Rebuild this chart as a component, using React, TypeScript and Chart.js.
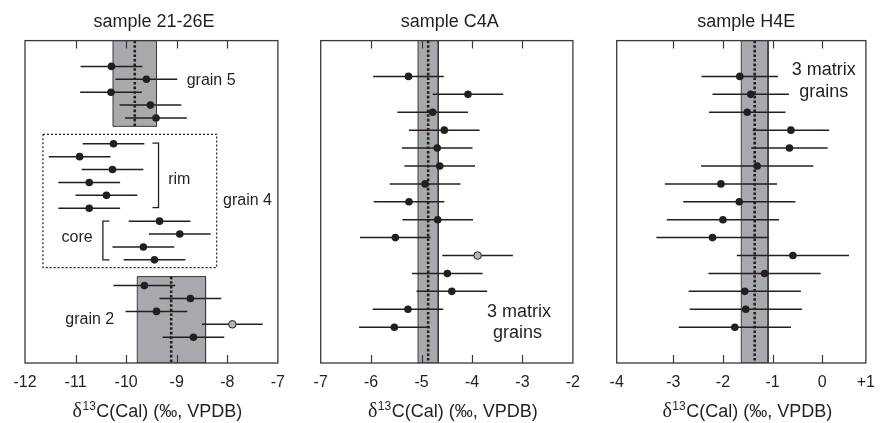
import React, { useEffect, useRef } from 'react';
import { Chart, registerables } from 'chart.js';
Chart.register(...registerables);

const FONT = "'Liberation Sans', Arial, Helvetica, sans-serif";
const SERIF = "'Liberation Serif', 'Times New Roman', serif";
const INK = '#231f20';
const FRAME = '#3a3a3a';
const BOX_FILL = '#a7a9ac';
const BOX_EDGE = '#3a3a3a';
const GRAY_PT = '#b4b4b4';

// ---------- sample 21-26E ----------
const s1Title = 'sample 21-26E';
const s1Rows = [2, 3, 4, 5, 6, 8, 9, 10, 11, 12, 13, 14, 15, 16, 17, 19, 20, 21, 22, 23];
const s1Values = [-10.29, -9.6, -10.3, -9.52, -9.41, -10.25, -10.92, -10.27, -10.73, -10.39, -10.73, -9.34, -8.94, -9.66, -9.44, -9.64, -8.73, -9.4, -7.9, -8.67];
const s1Errors = [0.61, 0.61, 0.61, 0.61, 0.61, 0.61, 0.61, 0.61, 0.61, 0.61, 0.61, 0.61, 0.61, 0.61, 0.61, 0.61, 0.61, 0.61, 0.6, 0.61];
const s1Gray = [false, false, false, false, false, false, false, false, false, false, false, false, false, false, false, false, false, false, true, false];
const s1TickValues = [-12, -11, -10, -9, -8, -7];
const s1TickLabels = ['-12', '-11', '-10', '-9', '-8', '-7'];
const s1Means = [-9.83, -9.11];
const s1BoxLo = [-10.26, -9.78];
const s1BoxHi = [-9.4, -8.43];

// ---------- sample C4A ----------
const s2Title = 'sample C4A';
const s2Rows = [2, 3, 4, 5, 6, 7, 8, 9, 10, 11, 12, 13, 14, 15, 16];
const s2Values = [-5.26, -4.08, -4.78, -4.55, -4.69, -4.64, -4.93, -5.25, -4.68, -5.52, -3.89, -4.49, -4.4, -5.27, -5.54];
const s2Errors = [0.7, 0.7, 0.7, 0.7, 0.7, 0.7, 0.7, 0.7, 0.7, 0.7, 0.7, 0.7, 0.7, 0.7, 0.7];
const s2Gray = [false, false, false, false, false, false, false, false, false, false, true, false, false, false, false];
const s2TickValues = [-7, -6, -5, -4, -3, -2];
const s2TickLabels = ['-7', '-6', '-5', '-4', '-3', '-2'];
const s2Means = [-4.87];
const s2BoxLo = [-5.07];
const s2BoxHi = [-4.67];

// ---------- sample H4E ----------
const s3Title = 'sample H4E';
const s3Rows = [2, 3, 4, 5, 6, 7, 8, 9, 10, 11, 12, 13, 14, 15, 16];
const s3Values = [-1.66, -1.44, -1.51, -0.63, -0.66, -1.31, -2.04, -1.67, -2.0, -2.21, -0.59, -1.16, -1.56, -1.54, -1.76];
const s3Errors = [0.77, 0.77, 0.77, 0.77, 0.77, 1.13, 1.13, 1.13, 1.13, 1.13, 1.13, 1.13, 1.13, 1.13, 1.13];
const s3Gray = [false, false, false, false, false, false, false, false, false, false, false, false, false, false, false];
const s3AxisMin = -4.14;
const s3AxisMax = 0.88;
const s3TickValues = [s3AxisMin, -3, -2, -1, 0, s3AxisMax];
const s3TickLabels = ['-4', '-3', '-2', '-1', '0', '+1'];
const s3Means = [-1.36];
const s3BoxLo = [-1.63];
const s3BoxHi = [-1.09];

// axis title pieces: δ ¹³ C(Cal) (‰, VPDB)
const AXIS_DELTA = 'δ';
const AXIS_SUP = '13';
const AXIS_REST = 'C(Cal) (‰, VPDB)';

type Box = { lo: number; hi: number; mean: number; top: number; bottom: number };
type Label = { text: string; x: number; y: number; size: number };
type Poly = { pts: { x: number; y: number }[]; dash: number[]; width: number };

type Spec = {
  title: string;
  left: number;
  width: number;
  padLeft: number;
  padRight: number;
  xMin: number;
  xMax: number;
  yMax: number;
  rows: number[];
  values: number[];
  errors: number[];
  gray: boolean[];
  tickValues: number[];
  tickLabels: string[];
  boxes: Box[];
  labels: Label[];
  polys: Poly[];
};

const specs: Spec[] = [
  {
    title: s1Title,
    left: 0,
    width: 295,
    padLeft: 25,
    padRight: 12,
    xMin: -12,
    xMax: -7,
    yMax: 25,
    rows: s1Rows,
    values: s1Values,
    errors: s1Errors,
    gray: s1Gray,
    tickValues: s1TickValues,
    tickLabels: s1TickLabels,
    boxes: [
      { lo: s1BoxLo[0], hi: s1BoxHi[0], mean: s1Means[0], top: 0, bottom: 6.65 },
      { lo: s1BoxLo[1], hi: s1BoxHi[1], mean: s1Means[1], top: 18.3, bottom: 25 },
    ],
    labels: [
      { text: 'grain 5', x: -8.32, y: 3.1, size: 16 },
      { text: 'rim', x: -8.95, y: 10.8, size: 16 },
      { text: 'grain 4', x: -7.6, y: 12.37, size: 16 },
      { text: 'core', x: -10.97, y: 15.27, size: 16 },
      { text: 'grain 2', x: -10.72, y: 21.6, size: 16 },
    ],
    polys: [
      {
        pts: [
          { x: -11.645, y: 7.27 },
          { x: -8.21, y: 7.27 },
          { x: -8.21, y: 17.6 },
          { x: -11.645, y: 17.6 },
          { x: -11.645, y: 7.27 },
        ],
        dash: [2, 2],
        width: 1.2,
      },
      {
        pts: [
          { x: -9.48, y: 7.95 },
          { x: -9.36, y: 7.95 },
          { x: -9.36, y: 12.95 },
          { x: -9.48, y: 12.95 },
        ],
        dash: [],
        width: 1.3,
      },
      {
        pts: [
          { x: -10.33, y: 14.0 },
          { x: -10.46, y: 14.0 },
          { x: -10.46, y: 17.0 },
          { x: -10.33, y: 17.0 },
        ],
        dash: [],
        width: 1.3,
      },
    ],
  },
  {
    title: s2Title,
    left: 295,
    width: 295,
    padLeft: 25.7,
    padRight: 11,
    xMin: -7,
    xMax: -2,
    yMax: 18,
    rows: s2Rows,
    values: s2Values,
    errors: s2Errors,
    gray: s2Gray,
    tickValues: s2TickValues,
    tickLabels: s2TickLabels,
    boxes: [{ lo: s2BoxLo[0], hi: s2BoxHi[0], mean: s2Means[0], top: 0, bottom: 18 }],
    labels: [
      { text: '3 matrix', x: -3.07, y: 15.17, size: 18 },
      { text: 'grains', x: -3.1, y: 16.3, size: 18 },
    ],
    polys: [],
  },
  {
    title: s3Title,
    left: 590,
    width: 295,
    padLeft: 26.7,
    padRight: 9.3,
    xMin: s3AxisMin,
    xMax: s3AxisMax,
    yMax: 18,
    rows: s3Rows,
    values: s3Values,
    errors: s3Errors,
    gray: s3Gray,
    tickValues: s3TickValues,
    tickLabels: s3TickLabels,
    boxes: [{ lo: s3BoxLo[0], hi: s3BoxHi[0], mean: s3Means[0], top: 0, bottom: 18 }],
    labels: [
      { text: '3 matrix', x: 0.03, y: 1.66, size: 18 },
      { text: 'grains', x: 0.03, y: 2.87, size: 18 },
    ],
    polys: [],
  },
];

function buildDatasets(s: Spec): any[] {
  const ds: any[] = [];
  s.boxes.forEach((b) => {
    ds.push({
      showLine: true,
      data: [
        { x: b.lo, y: b.bottom },
        { x: b.hi, y: b.bottom },
      ],
      fill: { value: b.top },
      backgroundColor: BOX_FILL,
      borderWidth: 0,
      pointRadius: 0,
      order: 10,
    });
    ds.push({
      showLine: true,
      data: [
        { x: b.lo, y: b.top },
        { x: b.hi, y: b.top },
        { x: b.hi, y: b.bottom },
        { x: b.lo, y: b.bottom },
        { x: b.lo, y: b.top },
      ],
      borderColor: BOX_EDGE,
      borderWidth: 1,
      fill: false,
      pointRadius: 0,
      order: 9,
    });
    ds.push({
      showLine: true,
      data: [
        { x: b.mean, y: b.top },
        { x: b.mean, y: b.bottom },
      ],
      borderColor: INK,
      borderWidth: 2.6,
      borderDash: [2.6, 2],
      fill: false,
      pointRadius: 0,
      order: 8,
    });
  });
  s.polys.forEach((p) => {
    ds.push({
      showLine: true,
      data: p.pts,
      borderColor: INK,
      borderWidth: p.width,
      borderDash: p.dash,
      fill: false,
      pointRadius: 0,
      order: 7,
    });
  });
  s.values.forEach((v, i) => {
    ds.push({
      showLine: true,
      data: [
        { x: v - s.errors[i], y: s.rows[i] },
        { x: v + s.errors[i], y: s.rows[i] },
      ],
      borderColor: INK,
      borderWidth: 1.5,
      fill: false,
      pointRadius: 0,
      order: 3,
    });
  });
  ds.push({
    showLine: false,
    data: s.values.map((v, i) => ({ x: v, y: s.rows[i] })),
    pointRadius: 3.8,
    pointBackgroundColor: s.gray.map((g) => (g ? GRAY_PT : INK)),
    pointBorderColor: INK,
    pointBorderWidth: s.gray.map((g) => (g ? 1 : 0)),
    order: 1,
  });
  return ds;
}

function Panel({ spec }: { spec: Spec }) {
  const ref = useRef<HTMLCanvasElement | null>(null);
  useEffect(() => {
    if (!ref.current) return;
    const s = spec;
    const decor = {
      id: 'decor',
      afterDatasetsDraw(chart: any) {
        const { ctx, chartArea: a, scales } = chart;
        const xs = scales.x;
        const ys = scales.y;
        ctx.save();
        ctx.strokeStyle = FRAME;
        ctx.lineWidth = 1.3;
        ctx.setLineDash([]);
        ctx.strokeRect(a.left, a.top, a.right - a.left, a.bottom - a.top);
        ctx.lineWidth = 1.2;
        s.tickValues.forEach((v) => {
          if (v <= s.xMin || v >= s.xMax) return;
          const px = Math.round(xs.getPixelForValue(v)) + 0.5;
          ctx.beginPath();
          ctx.moveTo(px, a.bottom);
          ctx.lineTo(px, a.bottom - 8);
          ctx.moveTo(px, a.top);
          ctx.lineTo(px, a.top + 8);
          ctx.stroke();
        });
        ctx.fillStyle = INK;
        ctx.textAlign = 'center';
        ctx.textBaseline = 'middle';
        s.labels.forEach((l) => {
          ctx.font = `${l.size}px ${FONT}`;
          ctx.fillText(l.text, xs.getPixelForValue(l.x), ys.getPixelForValue(l.y));
        });
        // axis title with real superscript
        const fDelta = `20px ${SERIF}`;
        const fSup = `12px ${FONT}`;
        const fMain = `18px ${FONT}`;
        ctx.textBaseline = 'alphabetic';
        ctx.textAlign = 'left';
        ctx.font = fDelta;
        const wD = ctx.measureText(AXIS_DELTA).width;
        ctx.font = fSup;
        const wS = ctx.measureText(AXIS_SUP).width;
        ctx.font = fMain;
        const wR = ctx.measureText(AXIS_REST).width;
        const total = wD + 0.5 + wS + 0.5 + wR;
        const base = 417;
        let x0 = (a.left + a.right) / 2 + 6 - total / 2;
        ctx.font = fDelta;
        ctx.fillText(AXIS_DELTA, x0, base);
        x0 += wD + 0.5;
        ctx.font = fSup;
        ctx.fillText(AXIS_SUP, x0, base - 7);
        x0 += wS + 0.5;
        ctx.font = fMain;
        ctx.fillText(AXIS_REST, x0, base);
        ctx.restore();
      },
    };
    const chart = new Chart(ref.current, {
      type: 'scatter',
      data: { datasets: buildDatasets(s) },
      options: {
        animation: false,
        responsive: false,
        devicePixelRatio: 1,
        layout: { padding: { left: s.padLeft, right: s.padRight, top: 0, bottom: 0 } },
        plugins: {
          legend: { display: false },
          tooltip: { enabled: false },
          title: {
            display: true,
            text: s.title,
            color: INK,
            font: { family: FONT, size: 18, weight: 'normal' },
            padding: { top: 11, bottom: 8 },
          },
        },
        scales: {
          x: {
            type: 'linear',
            position: 'bottom',
            min: s.xMin,
            max: s.xMax,
            grid: { display: false, drawTicks: false },
            border: { display: false },
            afterBuildTicks: (scale: any) => {
              scale.ticks = s.tickValues.map((v) => ({ value: v }));
            },
            afterFit: (scale: any) => {
              scale.height = 60;
            },
            ticks: {
              autoSkip: false,
              maxRotation: 0,
              padding: 10,
              color: INK,
              font: { family: FONT, size: 16 },
              callback: (_v: any, i: number) => s.tickLabels[i],
            },
            title: { display: false },
          },
          y: {
            type: 'linear',
            display: false,
            reverse: true,
            min: 0,
            max: s.yMax,
          },
        },
      } as any,
      plugins: [decor],
    });
    return () => chart.destroy();
  }, [spec]);
  return (
    <canvas
      ref={ref}
      width={spec.width}
      height={423}
      style={{ position: 'absolute', left: spec.left, top: 0, width: spec.width, height: 423, display: 'block' }}
    />
  );
}

export default function App() {
  return (
    <div style={{ position: 'absolute', left: 0, top: 0, width: 885, height: 423, background: '#ffffff', overflow: 'hidden' }}>
      {specs.map((s) => (
        <Panel key={s.title} spec={s} />
      ))}
    </div>
  );
}
